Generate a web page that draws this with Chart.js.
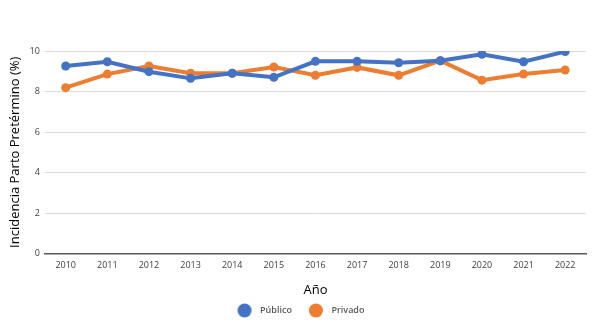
<!DOCTYPE html>
<html>
<head>
<meta charset="utf-8">
<script src="https://cdn.jsdelivr.net/npm/chart.js@4.4.0/dist/chart.umd.min.js"></script>
<style>
  html, body { margin: 0; padding: 0; background: #fff; }
  #wrap { width: 601px; height: 329px; position: relative; }
</style>
</head>
<body>
<div id="wrap"><canvas id="c" width="601" height="329"></canvas></div>
<script>
// Incidencia de parto pretérmino (%) por año y sector
const years = ['2010','2011','2012','2013','2014','2015','2016','2017','2018','2019','2020','2021','2022'];
const publico = [9.26, 9.47, 8.98, 8.65, 8.90, 8.70, 9.49, 9.49, 9.42, 9.52, 9.84, 9.47, 9.97];
const privado = [8.19, 8.86, 9.26, 8.90, 8.90, 9.21, 8.80, 9.19, 8.80, 9.52, 8.56, 8.86, 9.06];
const yTicks = [0, 2, 4, 6, 8, 10];

const blue = '#4472C4';
const orange = '#ED7D31';

// Legend marker: a 14px dot placed inside a wider slot
const SLOT = 27;
function legendDot(color) {
  const cv = document.createElement('canvas');
  cv.width = SLOT; cv.height = 15;
  const g = cv.getContext('2d');
  g.fillStyle = color;
  g.beginPath();
  g.arc(16, 7.5, 7, 0, Math.PI * 2);
  g.fill();
  return cv;
}
const dots = [legendDot(blue), legendDot(orange)];

new Chart(document.getElementById('c'), {
  type: 'line',
  data: {
    labels: years,
    datasets: [
      {
        label: 'Público',
        data: publico,
        borderColor: blue,
        backgroundColor: blue,
        borderWidth: 4,
        pointRadius: 4.5,
        pointHoverRadius: 4.5,
        pointBorderWidth: 0,
        tension: 0
      },
      {
        label: 'Privado',
        data: privado,
        borderColor: orange,
        backgroundColor: orange,
        borderWidth: 4,
        pointRadius: 4.5,
        pointHoverRadius: 4.5,
        pointBorderWidth: 0,
        tension: 0
      }
    ]
  },
  options: {
    responsive: false,
    animation: false,
    layout: { padding: { left: 7, right: 15, top: 51, bottom: 4 } },
    plugins: {
      tooltip: { enabled: false },
      legend: {
        position: 'bottom',
        labels: {
          usePointStyle: true,
          pointStyleWidth: SLOT,
          padding: 8,
          color: '#595959',
          font: { family: 'Open Sans', size: 9, weight: '600' },
          generateLabels: (chart) => {
            const items = Chart.defaults.plugins.legend.labels.generateLabels(chart);
            items.forEach((it, i) => { it.pointStyle = dots[i]; });
            return items;
          }
        }
      }
    },
    scales: {
      x: {
        offset: true,
        grid: { display: false, drawTicks: false },
        border: { display: true, color: '#595959', width: 1.5 },
        ticks: {
          color: '#404040',
          font: { family: 'Open Sans', size: 9 },
          padding: 6,
          maxRotation: 0
        },
        title: {
          display: true,
          text: 'Año',
          color: '#000',
          font: { family: 'Open Sans', size: 13 },
          padding: { top: 6, bottom: 0 }
        }
      },
      y: {
        min: 0,
        max: 10,
        afterBuildTicks: (axis) => { axis.ticks = yTicks.map(v => ({ value: v })); },
        grid: { color: '#d9d9d9', lineWidth: 1, drawTicks: false },
        border: { display: false },
        ticks: {
          color: '#404040',
          font: { family: 'Open Sans', size: 9 },
          padding: 5
        },
        title: {
          display: true,
          text: 'Incidencia Parto Pretérmino (%)',
          color: '#000',
          font: { family: 'Open Sans', size: 13 },
          padding: { top: 0, bottom: 2 }
        }
      }
    }
  }
});
</script>
</body>
</html>
